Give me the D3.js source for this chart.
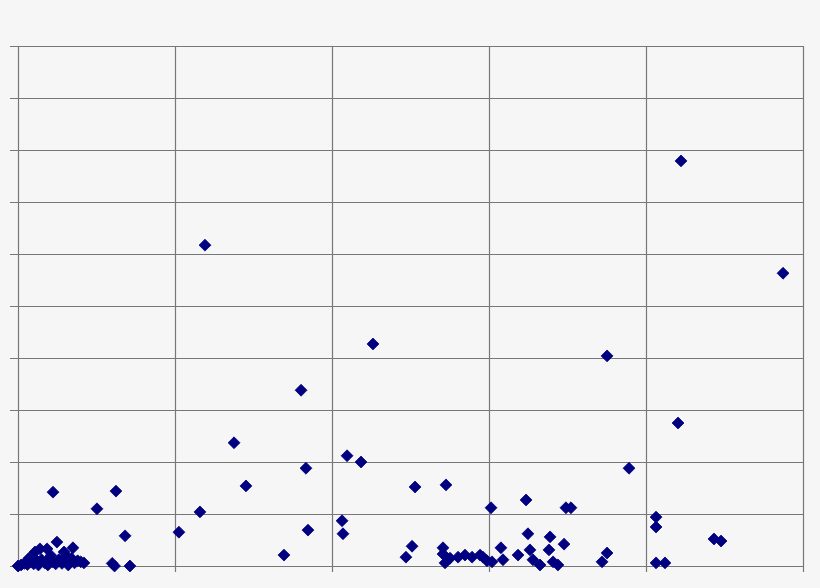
<!DOCTYPE html>
<html><head><meta charset="utf-8">
<script src="https://cdn.jsdelivr.net/npm/d3@7"></script>
<style>
html,body{margin:0;padding:0;background:#f6f6f6;}
svg{display:block;}
</style></head>
<body>
<svg id="c" width="820" height="588"></svg>
<script>
const xTicks = [0,1,2,3,4,5];
const yTicks = [0,1,2,3,4,5,6,7,8,9,10];
const xValues = [
  0.00,0.02,0.04,0.06,0.08,0.10,0.12,0.13,0.15,0.17,0.19,0.20,0.22,0.24,0.26,0.28,0.30,0.32,0.34,0.36,0.38,0.40,0.42,
  0.248,0.350,0.140,0.185,0.108,0.293,0.07,0.21,0.31,
  0.223,0.624,0.503,0.682,0.600,0.615,0.713,
  1.025,1.159,1.191,1.376,1.452,1.694,1.803,1.834,1.847,
  2.064,2.070,2.096,2.185,2.261,2.471,2.510,2.529,2.726,2.707,2.707,2.720,2.752,2.803,2.847,2.892,2.943,2.962,2.987,
  3.019,3.013,3.076,3.089,3.185,3.236,3.248,3.261,3.280,3.325,3.382,3.389,3.408,3.439,3.478,3.490,3.522,
  3.752,3.892,3.752,3.720,4.064,4.064,4.064,4.121,4.204,4.223,4.873,4.433,4.478
];
const yValues = [
  0.00,0.02,0.05,0.03,0.08,0.04,0.10,0.02,0.12,0.06,0.02,0.15,0.08,0.04,0.12,0.05,0.10,0.02,0.15,0.06,0.10,0.08,0.06,
  0.46,0.35,0.33,0.33,0.27,0.27,0.15,0.20,0.18,
  1.42,1.44,1.10,0.58,0.05,0.00,0.00,
  0.65,1.04,6.17,2.37,1.54,0.21,3.38,1.88,0.69,
  0.87,0.62,2.12,2.00,4.27,0.17,0.38,1.52,1.56,0.35,0.23,0.06,0.15,0.17,0.21,0.17,0.21,0.17,0.10,
  0.08,1.12,0.35,0.12,0.21,1.27,0.62,0.31,0.12,0.02,0.31,0.56,0.08,0.02,0.42,1.12,1.12,
  4.04,1.88,0.25,0.08,0.94,0.75,0.06,0.06,2.75,7.79,5.63,0.52,0.48
];

const svg = d3.select("#c");
const pLeft = 18, pRight = 803, pTop = 46, pBottom = 566;
const x = d3.scaleLinear().domain([0,5]).range([pLeft,pRight]);
const y = d3.scaleLinear().domain([0,10]).range([pBottom,pTop]);
const gridColor = "#777777";

const yAxis = d3.axisLeft(y).tickValues(yTicks).tickFormat("")
  .tickSizeInner(-(pRight-pLeft)).tickSizeOuter(0).tickPadding(0);
const gy = svg.append("g").attr("transform",`translate(${pLeft},0)`).call(yAxis);
gy.select(".domain").remove();
gy.selectAll(".tick line").attr("x1",-8).attr("stroke",gridColor).attr("stroke-width",1.2);

const xAxis = d3.axisBottom(x).tickValues(xTicks).tickFormat("")
  .tickSizeInner(-(pBottom-pTop)).tickSizeOuter(0).tickPadding(0);
const gx = svg.append("g").attr("transform",`translate(0,${pBottom})`).call(xAxis);
gx.select(".domain").remove();
gx.selectAll(".tick line").attr("y1",6).attr("stroke",gridColor).attr("stroke-width",1.2);

const pts = xValues.map((v,i)=>({x:v,y:yValues[i]}));
const sym = d3.symbol().type(d3.symbolDiamond2).size(90);
svg.append("g").selectAll("path").data(pts).join("path")
  .attr("transform",d=>`translate(${x(d.x)},${y(d.y)})`)
  .attr("d",sym)
  .attr("fill","#000080")
  .attr("stroke","#000080")
  .attr("stroke-width",0.8);
</script>
</body></html>
